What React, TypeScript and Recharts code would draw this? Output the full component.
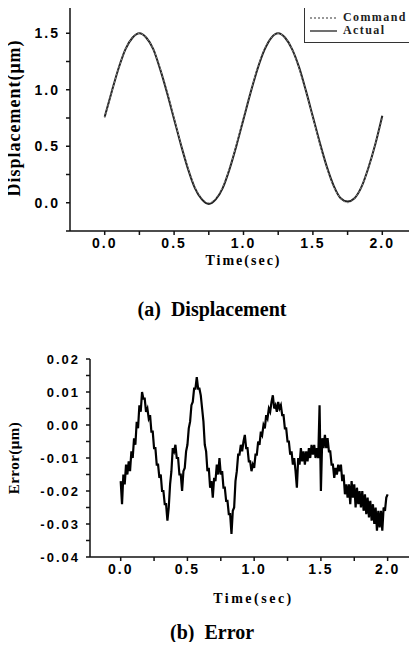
import React from 'react';
import { LineChart, Line, XAxis, YAxis, Legend } from 'recharts';

// (a) displacement, sampled every 0.05 s
const dispStep = 0.05;
const commandUm = [
  0.75, 0.98, 1.19, 1.36, 1.46, 1.5, 1.46, 1.36, 1.19, 0.98, 0.75, 0.52, 0.31, 0.14,
  0.04, 0.0, 0.04, 0.14, 0.31, 0.52, 0.75, 0.98, 1.19, 1.36, 1.46, 1.5, 1.46, 1.36,
  1.19, 0.98, 0.75, 0.52, 0.31, 0.14, 0.04, 0.0, 0.04, 0.14, 0.31, 0.52, 0.75,
];
const actualUm = [
  0.76, 0.98, 1.19, 1.36, 1.46, 1.5, 1.46, 1.36, 1.18, 0.97, 0.74, 0.51, 0.3, 0.13,
  0.03, -0.01, 0.03, 0.13, 0.3, 0.51, 0.74, 0.97, 1.18, 1.35, 1.46, 1.5, 1.46, 1.36,
  1.2, 0.99, 0.76, 0.53, 0.32, 0.15, 0.04, 0.01, 0.04, 0.14, 0.31, 0.52, 0.77,
];
const dispXTicks = [0, 0.25, 0.5, 0.75, 1, 1.25, 1.5, 1.75, 2];
const dispYTicks = [-0.25, 0, 0.25, 0.5, 0.75, 1, 1.25, 1.5, 1.75];

// (b) error, sampled every 0.01 s
const errStep = 0.01;
const errorUm = [
  -0.017, -0.024, -0.015, -0.018, -0.012, -0.015, -0.011, -0.014, -0.008, -0.01,
  -0.004, -0.006, 0.001, -0.001, 0.006, 0.004, 0.01, 0.008, 0.008, 0.004,
  0.005, 0.002, 0.003, -0.002, -0.002, -0.007, -0.007, -0.012, -0.012, -0.016,
  -0.015, -0.02, -0.02, -0.024, -0.024, -0.029, -0.025, -0.018, -0.014, -0.007,
  -0.008, -0.006, -0.01, -0.01, -0.015, -0.015, -0.02, -0.014, -0.013, -0.008,
  -0.006, -0.001, 0.001, 0.006, 0.007, 0.011, 0.011, 0.0145, 0.011, 0.011,
  0.009, 0.005, 0.001, -0.006, -0.008, -0.014, -0.013, -0.019, -0.017, -0.022,
  -0.016, -0.017, -0.012, -0.015, -0.01, -0.015, -0.014, -0.019, -0.019, -0.023,
  -0.023, -0.027, -0.027, -0.033, -0.026, -0.025, -0.017, -0.014, -0.009, -0.009,
  -0.006, -0.008, -0.005, -0.003, -0.007, -0.007, -0.011, -0.011, -0.014, -0.012,
  -0.013, -0.009, -0.009, -0.005, -0.006, -0.002, -0.003, 0.0, -0.001, 0.003,
  0.002, 0.005, 0.004, 0.007, 0.009, 0.005, 0.006, 0.004, 0.007, 0.005,
  0.006, 0.003, 0.003, -0.001, -0.001, -0.005, -0.005, -0.009, -0.008, -0.012,
  -0.01, -0.014, -0.019, -0.01, -0.012, -0.007, -0.011, -0.008, -0.012, -0.008,
  -0.011, -0.007, -0.01, -0.006, -0.009, -0.006, -0.01, -0.007, -0.01, 0.006,
  -0.02, -0.004, -0.007, -0.003, -0.007, -0.004, -0.008, -0.008, -0.012, -0.012,
  -0.016, -0.013, -0.015, -0.012, -0.014, -0.012, -0.017, -0.015, -0.021, -0.018,
  -0.022, -0.018, -0.024, -0.017, -0.022, -0.018, -0.025, -0.019, -0.024, -0.02,
  -0.025, -0.02, -0.026, -0.021, -0.027, -0.022, -0.028, -0.023, -0.029, -0.024,
  -0.03, -0.025, -0.032, -0.026, -0.031, -0.026, -0.032, -0.025, -0.026, -0.022,
  -0.021,
];
const errXTicks = [0, 0.25, 0.5, 0.75, 1, 1.25, 1.5, 1.75, 2];
const errYTicks = [
  -0.04, -0.035, -0.03, -0.025, -0.02, -0.015, -0.01, -0.005, 0, 0.005, 0.01, 0.015, 0.02,
];

const dispData = commandUm.map((c, i) => ({
  t: i * dispStep,
  Command: c,
  Actual: actualUm[i],
}));
const errData = errorUm.map((e, i) => ({ t: i * errStep, err: e }));

const tickStyle = {
  fontFamily: '"Liberation Sans", Arial, sans-serif',
  fontWeight: 700,
  fontSize: 14,
  fill: '#000',
  letterSpacing: 2,
};
const serifBold = {
  fontFamily: '"Liberation Serif", "Times New Roman", serif',
  fontWeight: 700,
  fill: '#000',
};

const major = (v: number, step: number) =>
  Math.abs(v / step - Math.round(v / step)) < 1e-6;

const fmtHalf = (v: number) => (major(v, 0.5) ? v.toFixed(1) : '');
const fmtErr = (v: number) => (major(v, 0.01) ? (Math.abs(v) < 1e-9 ? '0.00' : v.toFixed(2)) : '');

function DispLegend() {
  const row = (dash: string | undefined, color: string, label: string) => (
    <div style={{ display: 'flex', alignItems: 'center', height: 13 }}>
      <svg width={30} height={6}>
        <line x1={2} y1={3} x2={29} y2={3} stroke={color} strokeWidth={1.3} strokeDasharray={dash} />
      </svg>
      <span style={{ marginLeft: 5, letterSpacing: 1.4, fontWeight: 700 }}>{label}</span>
    </div>
  );
  return (
    <div
      style={{
        border: '1.5px solid #333',
        background: '#fff',
        padding: '3px 3px 4px 3px',
        fontFamily: '"Liberation Serif", "Times New Roman", serif',
        fontSize: 12,
        color: '#222',
        boxSizing: 'border-box',
        width: 111,
        height: 36,
      }}
    >
      {row('2 2', '#777', 'Command')}
      {row(undefined, '#222', 'Actual')}
    </div>
  );
}

export default function App() {
  return (
    <div style={{ position: 'relative', width: 417, height: 650, margin: -8, background: '#fff', overflow: 'hidden' }}>
      <div style={{ position: 'absolute', top: 0, left: 0 }}>
        <LineChart width={417} height={275} data={dispData} margin={{ top: 5, right: 0, bottom: 0, left: 0 }}>
          <XAxis
            dataKey="t"
            type="number"
            domain={[-0.25, 2.25]}
            ticks={dispXTicks}
            interval={0}
            tickFormatter={fmtHalf}
            tick={tickStyle}
            tickSize={4}
            tickMargin={3}
            height={44}
            stroke="#111"
            strokeWidth={1.5}
            label={{ value: 'Time(sec)', position: 'insideBottom', offset: 10, style: { ...serifBold, fontSize: 14, letterSpacing: 2 } }}
          />
          <YAxis
            type="number"
            domain={[-0.25, 1.75]}
            ticks={dispYTicks}
            interval={0}
            tickFormatter={fmtHalf}
            tick={tickStyle}
            tickSize={4}
            tickMargin={6}
            width={70}
            stroke="#111"
            strokeWidth={1.5}
            label={{ value: 'Displacement(μm)', angle: -90, position: 'insideLeft', offset: 14, style: { ...serifBold, fontSize: 18, letterSpacing: 1, textAnchor: 'middle' } }}
          />
          <Legend
            layout="vertical"
            align="center"
            verticalAlign="middle"
            width={111}
            height={36}
            wrapperStyle={{ top: 7, left: 304 }}
            content={() => <DispLegend />}
          />
          <Line type="monotone" dataKey="Actual" stroke="#222" strokeWidth={2} dot={false} isAnimationActive={false} />
          <Line type="monotone" dataKey="Command" stroke="#888" strokeWidth={1} strokeDasharray="2 2" dot={false} isAnimationActive={false} />
        </LineChart>
      </div>
      <div style={{ position: 'absolute', top: 297, left: 0, width: 424, textAlign: 'center', ...serifBold, fontSize: 20, lineHeight: '24px', color: '#000' }}>
        (a)&nbsp; Displacement
      </div>
      <div style={{ position: 'absolute', top: 345, left: 0 }}>
        <LineChart width={417} height={270} data={errData} margin={{ top: 14, right: 0, bottom: 0, left: 0 }}>
          <XAxis
            dataKey="t"
            type="number"
            domain={[-0.23, 2.22]}
            ticks={errXTicks}
            interval={0}
            tickFormatter={fmtHalf}
            tick={tickStyle}
            tickSize={4}
            tickMargin={3}
            height={58}
            stroke="#111"
            strokeWidth={1.5}
            label={{ value: 'Time(sec)', position: 'insideBottom', offset: 12, style: { ...serifBold, fontSize: 14, letterSpacing: 2.5 } }}
          />
          <YAxis
            type="number"
            domain={[-0.04, 0.02]}
            ticks={errYTicks}
            interval={0}
            tickFormatter={fmtErr}
            tick={{ ...tickStyle, fontSize: 13 }}
            tickSize={4}
            tickMargin={6}
            width={90}
            stroke="#111"
            strokeWidth={1.5}
            label={{ value: 'Error(μm)', angle: -90, position: 'insideLeft', offset: 14, style: { ...serifBold, fontSize: 15, letterSpacing: 0.5, textAnchor: 'middle' } }}
          />
          <Line type="linear" dataKey="err" stroke="#000" strokeWidth={2.2} strokeLinejoin="miter" dot={false} isAnimationActive={false} />
        </LineChart>
      </div>
      <div style={{ position: 'absolute', top: 620, left: 0, width: 424, textAlign: 'center', ...serifBold, fontSize: 20, lineHeight: '24px', color: '#000' }}>
        (b)&nbsp; Error
      </div>
    </div>
  );
}
